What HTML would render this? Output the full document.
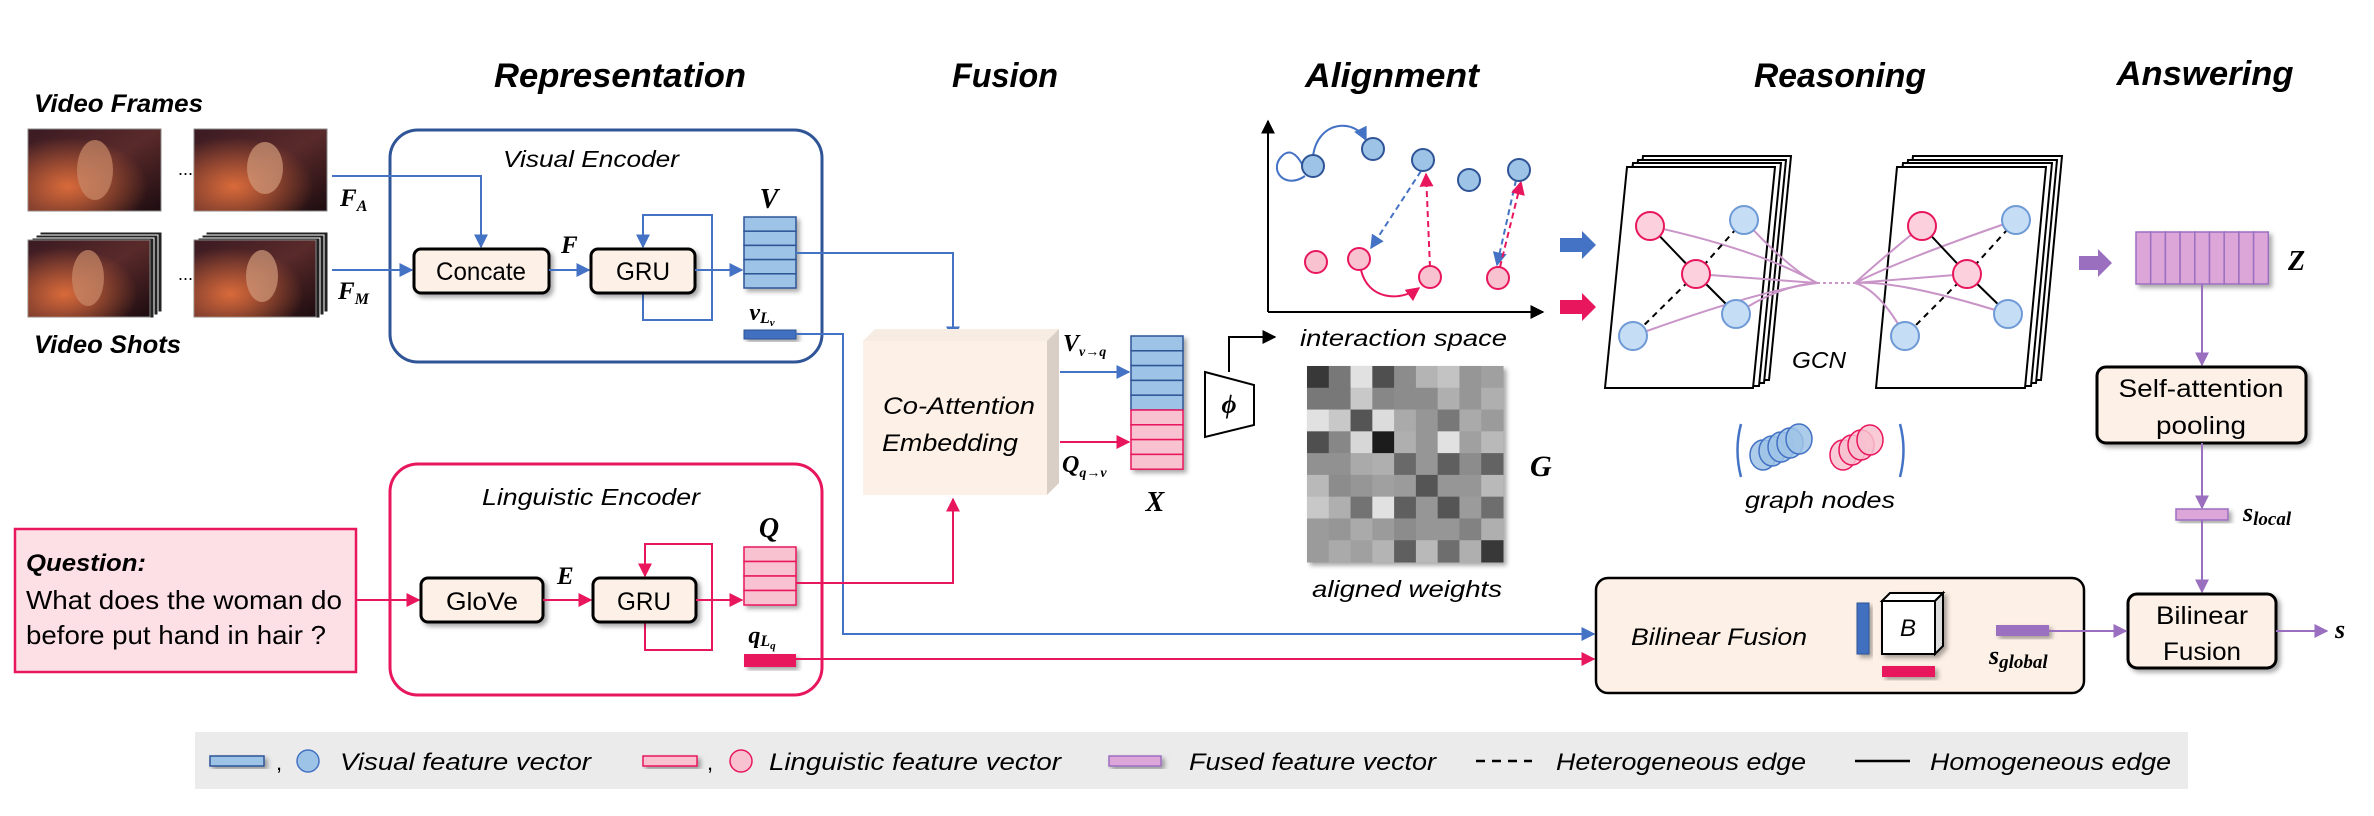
<!DOCTYPE html>
<html><head><meta charset="utf-8"><title>Framework diagram</title>
<style>
html,body{margin:0;padding:0;background:#fff;}
svg{display:block;}
.t{font-family:"Liberation Sans",sans-serif;font-style:italic;}
.m{font-family:"Liberation Serif",serif;font-style:italic;font-weight:bold;}
</style></head>
<body>
<svg id="fig" width="2374" height="816" viewBox="0 0 2374 816" xmlns="http://www.w3.org/2000/svg">
<defs>
<marker id="ab" viewBox="0 0 10 10" refX="9" refY="5" markerWidth="7" markerHeight="7" orient="auto-start-reverse"><path d="M0,0L10,5L0,10z" fill="#4472c4"/></marker>
<marker id="ar" viewBox="0 0 10 10" refX="9" refY="5" markerWidth="7" markerHeight="7" orient="auto-start-reverse"><path d="M0,0L10,5L0,10z" fill="#e8175d"/></marker>
<marker id="ap" viewBox="0 0 10 10" refX="9" refY="5" markerWidth="7" markerHeight="7" orient="auto-start-reverse"><path d="M0,0L10,5L0,10z" fill="#9b6fc0"/></marker>
<marker id="ak" viewBox="0 0 10 10" refX="9" refY="5" markerWidth="7" markerHeight="7" orient="auto-start-reverse"><path d="M0,0L10,5L0,10z" fill="#000"/></marker>
<linearGradient id="photo" x1="0" y1="0" x2="1" y2="1"><stop offset="0" stop-color="#3a1a22"/><stop offset="0.5" stop-color="#5a2a2a"/><stop offset="1" stop-color="#1c0c10"/></linearGradient>
<radialGradient id="glow" cx="0.3" cy="0.7" r="0.6"><stop offset="0" stop-color="#d86a3a"/><stop offset="1" stop-color="#d86a3a" stop-opacity="0"/></radialGradient>
<filter id="sh" x="-20%" y="-20%" width="150%" height="150%"><feDropShadow dx="3" dy="3" stdDeviation="2.5" flood-color="#000" flood-opacity="0.35"/></filter>
</defs>

<!-- Titles -->
<g class="t" font-weight="bold" font-size="34" text-anchor="middle">
<text x="620" y="87" textLength="252" lengthAdjust="spacingAndGlyphs">Representation</text>
<text x="1005" y="87" textLength="106" lengthAdjust="spacingAndGlyphs">Fusion</text>
<text x="1392" y="87" textLength="174" lengthAdjust="spacingAndGlyphs">Alignment</text>
<text x="1840" y="87" textLength="172" lengthAdjust="spacingAndGlyphs">Reasoning</text>
<text x="2205" y="85" textLength="177" lengthAdjust="spacingAndGlyphs">Answering</text>
</g>

<!-- Video inputs -->
<text class="t" font-weight="bold" font-size="25" x="34" y="112" textLength="169" lengthAdjust="spacingAndGlyphs">Video Frames</text>
<g><rect x="28" y="129" width="133" height="82" fill="url(#photo)" stroke="#888"/><rect x="28" y="129" width="133" height="82" fill="url(#glow)"/><ellipse cx="95" cy="170" rx="18" ry="30" fill="#c98a6a" opacity="0.7"/></g>
<text x="178" y="175" font-size="18" font-family="Liberation Sans">...</text>
<g><rect x="194" y="129" width="133" height="82" fill="url(#photo)" stroke="#888"/><rect x="194" y="129" width="133" height="82" fill="url(#glow)"/><ellipse cx="265" cy="168" rx="18" ry="26" fill="#d09a7a" opacity="0.7"/></g>
<g>
<rect x="40" y="232" width="122" height="80" fill="#222" stroke="#fff"/><rect x="36" y="235" width="122" height="80" fill="#222" stroke="#fff"/><rect x="32" y="238" width="122" height="80" fill="#222" stroke="#fff"/>
<rect x="28" y="240" width="122" height="77" fill="url(#photo)" stroke="#888"/><rect x="28" y="240" width="122" height="77" fill="url(#glow)"/><ellipse cx="88" cy="278" rx="16" ry="28" fill="#c98a6a" opacity="0.7"/></g>
<text x="178" y="280" font-size="18" font-family="Liberation Sans">...</text>
<g>
<rect x="206" y="232" width="122" height="80" fill="#222" stroke="#fff"/><rect x="202" y="235" width="122" height="80" fill="#222" stroke="#fff"/><rect x="198" y="238" width="122" height="80" fill="#222" stroke="#fff"/>
<rect x="194" y="240" width="122" height="77" fill="url(#photo)" stroke="#888"/><rect x="194" y="240" width="122" height="77" fill="url(#glow)"/><ellipse cx="262" cy="276" rx="16" ry="26" fill="#d09a7a" opacity="0.7"/></g>
<text class="t" font-weight="bold" font-size="25" x="34" y="353" textLength="147" lengthAdjust="spacingAndGlyphs">Video Shots</text>

<!-- Visual encoder -->
<rect x="390" y="130" width="432" height="232" rx="28" fill="none" stroke="#2f5597" stroke-width="3"/>
<text class="t" font-size="23" x="591" y="167" text-anchor="middle" textLength="176" lengthAdjust="spacingAndGlyphs">Visual Encoder</text>
<text class="m" font-size="25" x="340" y="206">F<tspan font-size="16" dy="5">A</tspan></text>
<text class="m" font-size="25" x="338" y="299">F<tspan font-size="16" dy="5">M</tspan></text>
<polyline points="332,176 481,176 481,247" fill="none" stroke="#4472c4" stroke-width="2" marker-end="url(#ab)"/>
<line x1="332" y1="270" x2="412" y2="270" stroke="#4472c4" stroke-width="2" marker-end="url(#ab)"/>
<rect x="414" y="249" width="135" height="44" rx="7" fill="#fdf0e6" stroke="#000" stroke-width="3" filter="url(#sh)"/>
<text font-family="Liberation Sans" font-size="25" x="481" y="280" text-anchor="middle" textLength="90" lengthAdjust="spacingAndGlyphs">Concate</text>
<text class="m" font-size="25" x="561" y="253">F</text>
<line x1="549" y1="270" x2="589" y2="270" stroke="#4472c4" stroke-width="2" marker-end="url(#ab)"/>
<polyline points="643,293 643,320 712,320 712,215 643,215 643,247" fill="none" stroke="#4472c4" stroke-width="2" marker-end="url(#ab)"/>
<rect x="591" y="249" width="104" height="44" rx="7" fill="#fdf0e6" stroke="#000" stroke-width="3" filter="url(#sh)"/>
<text font-family="Liberation Sans" font-size="25" x="643" y="280" text-anchor="middle" textLength="54" lengthAdjust="spacingAndGlyphs">GRU</text>
<line x1="695" y1="270" x2="742" y2="270" stroke="#4472c4" stroke-width="2" marker-end="url(#ab)"/>
<g id="vstack" filter="url(#sh)"></g>
<text class="m" font-size="28" x="769" y="208" text-anchor="middle">V</text>
<text class="m" font-size="24" x="762" y="320" text-anchor="middle">v<tspan font-size="16" dy="3">L</tspan><tspan font-size="11" dy="3">v</tspan></text>
<rect x="744" y="330" width="52" height="9" fill="#3f6fbf" stroke="#2f5597" filter="url(#sh)"/>
<polyline points="796,253 953,253 953,339" fill="none" stroke="#4472c4" stroke-width="2" marker-end="url(#ab)"/>
<polyline points="796,334 843,334 843,634 1594,634" fill="none" stroke="#4472c4" stroke-width="2" marker-end="url(#ab)"/>

<!-- Linguistic encoder -->
<rect x="390" y="464" width="432" height="231" rx="28" fill="none" stroke="#e8175d" stroke-width="3"/>
<text class="t" font-size="23" x="591" y="505" text-anchor="middle" textLength="218" lengthAdjust="spacingAndGlyphs">Linguistic Encoder</text>
<rect x="15" y="529" width="341" height="143" fill="#fde0e6" stroke="#e8175d" stroke-width="2.5"/>
<text class="t" font-weight="bold" font-size="24" x="26" y="571" textLength="120" lengthAdjust="spacingAndGlyphs">Question:</text>
<text font-family="Liberation Sans" font-size="26" x="26" y="609" textLength="316" lengthAdjust="spacingAndGlyphs">What does the woman do</text>
<text font-family="Liberation Sans" font-size="26" x="26" y="644" textLength="300" lengthAdjust="spacingAndGlyphs">before put hand in hair ?</text>
<line x1="356" y1="600" x2="419" y2="600" stroke="#e8175d" stroke-width="2" marker-end="url(#ar)"/>
<rect x="421" y="578" width="122" height="44" rx="7" fill="#fdf0e6" stroke="#000" stroke-width="3" filter="url(#sh)"/>
<text font-family="Liberation Sans" font-size="25" x="482" y="610" text-anchor="middle" textLength="72" lengthAdjust="spacingAndGlyphs">GloVe</text>
<text class="m" font-size="25" x="557" y="584">E</text>
<line x1="543" y1="600" x2="591" y2="600" stroke="#e8175d" stroke-width="2" marker-end="url(#ar)"/>
<polyline points="645,622 645,650 712,650 712,544 645,544 645,576" fill="none" stroke="#e8175d" stroke-width="2" marker-end="url(#ar)"/>
<rect x="593" y="578" width="103" height="44" rx="7" fill="#fdf0e6" stroke="#000" stroke-width="3" filter="url(#sh)"/>
<text font-family="Liberation Sans" font-size="25" x="644" y="610" text-anchor="middle" textLength="54" lengthAdjust="spacingAndGlyphs">GRU</text>
<line x1="696" y1="600" x2="742" y2="600" stroke="#e8175d" stroke-width="2" marker-end="url(#ar)"/>
<g id="qstack" filter="url(#sh)"></g>
<text class="m" font-size="28" x="769" y="537" text-anchor="middle">Q</text>
<text class="m" font-size="24" x="762" y="643" text-anchor="middle">q<tspan font-size="16" dy="3">L</tspan><tspan font-size="11" dy="3">q</tspan></text>
<rect x="744" y="654" width="52" height="13" fill="#e8175d" filter="url(#sh)"/>
<polyline points="796,583 953,583 953,499" fill="none" stroke="#e8175d" stroke-width="2" marker-end="url(#ar)"/>
<line x1="796" y1="659" x2="1594" y2="659" stroke="#e8175d" stroke-width="2" marker-end="url(#ar)"/>

<!-- Co-attention -->
<g>
<polygon points="863,341 875,329 1059,329 1047,341" fill="#f6ece2"/>
<polygon points="1047,341 1059,329 1059,483 1047,495" fill="#d9cfc6"/>
<rect x="863" y="341" width="184" height="154" fill="#fdf0e6"/>
</g>
<text class="t" font-size="24" x="959" y="414" text-anchor="middle" textLength="152" lengthAdjust="spacingAndGlyphs">Co-Attention</text>
<text class="t" font-size="24" x="950" y="451" text-anchor="middle" textLength="136" lengthAdjust="spacingAndGlyphs">Embedding</text>
<text class="m" font-size="24" x="1063" y="351">V<tspan font-size="14" dy="5">v→q</tspan></text>
<line x1="1060" y1="372" x2="1129" y2="372" stroke="#4472c4" stroke-width="2" marker-end="url(#ab)"/>
<line x1="1060" y1="442" x2="1129" y2="442" stroke="#e8175d" stroke-width="2" marker-end="url(#ar)"/>
<text class="m" font-size="24" x="1062" y="472">Q<tspan font-size="14" dy="5">q→v</tspan></text>
<g id="xstack" filter="url(#sh)"></g>
<text class="m" font-size="28" x="1155" y="511" text-anchor="middle">X</text>

<!-- Alignment -->
<polyline points="1229,372 1229,337 1275,337" fill="none" stroke="#000" stroke-width="2" marker-end="url(#ak)"/>
<polygon points="1205,372 1254,385 1254,425 1205,437" fill="#fff" stroke="#000" stroke-width="2"/>
<text class="m" font-size="26" x="1229" y="413" text-anchor="middle" font-weight="normal">ϕ</text>
<text class="t" font-size="23" x="1300" y="346" textLength="207" lengthAdjust="spacingAndGlyphs">interaction space</text>
<line x1="1268" y1="312" x2="1268" y2="121" stroke="#000" stroke-width="2" marker-end="url(#ak)"/>
<line x1="1268" y1="312" x2="1543" y2="312" stroke="#000" stroke-width="2" marker-end="url(#ak)"/>
<path d="M1305,176 C1285,190 1268,170 1282,156 C1292,146 1300,160 1303,166" fill="none" stroke="#4472c4" stroke-width="2"/>
<path d="M1313,156 C1318,120 1355,118 1366,140" fill="none" stroke="#4472c4" stroke-width="2" marker-end="url(#ab)"/>
<line x1="1421" y1="171" x2="1371" y2="248" stroke="#4472c4" stroke-width="2" stroke-dasharray="6,4" marker-end="url(#ab)"/>
<line x1="1430" y1="267" x2="1426" y2="174" stroke="#e8175d" stroke-width="2" stroke-dasharray="6,4" marker-end="url(#ar)"/>
<line x1="1516" y1="180" x2="1497" y2="265" stroke="#4472c4" stroke-width="2" stroke-dasharray="6,4" marker-end="url(#ab)"/>
<line x1="1500" y1="267" x2="1521" y2="182" stroke="#e8175d" stroke-width="2" stroke-dasharray="6,4" marker-end="url(#ar)"/>
<path d="M1361,270 C1368,300 1400,302 1419,288" fill="none" stroke="#e8175d" stroke-width="2" marker-end="url(#ar)"/>
<g stroke="#2f5597" stroke-width="2" fill="#9dc3e6">
<circle cx="1313" cy="166" r="11"/>
<circle cx="1373" cy="149" r="11"/>
<circle cx="1423" cy="160" r="11"/>
<circle cx="1469" cy="180" r="11"/>
<circle cx="1519" cy="170" r="11"/>
</g>
<g stroke="#e8175d" stroke-width="2" fill="#f8c2d0">
<circle cx="1316" cy="262" r="11"/>
<circle cx="1359" cy="259" r="11"/>
<circle cx="1430" cy="277" r="11"/>
<circle cx="1498" cy="278" r="11"/>
</g>
<polygon points="1560,238 1582,238 1582,231 1596,245 1582,259 1582,252 1560,252" fill="#4472c4"/>
<polygon points="1560,300 1582,300 1582,293 1596,307 1582,321 1582,314 1560,314" fill="#e8175d"/>
<g id="heatmap" filter="url(#sh)"></g>
<text class="m" font-size="30" x="1530" y="476">G</text>
<text class="t" font-size="23" x="1407" y="597" text-anchor="middle" textLength="190" lengthAdjust="spacingAndGlyphs">aligned weights</text>

<!-- Reasoning GCN -->
<g fill="#fff" stroke="#000" stroke-width="2">
<polygon points="1621,380 1643,156 1791,156 1769,380"/>
<polygon points="1616,383 1638,160 1786,160 1764,383"/>
<polygon points="1611,386 1633,163 1781,163 1759,386"/>
<polygon points="1605,388 1627,167 1775,167 1753,388"/>
</g>
<g fill="#fff" stroke="#000" stroke-width="2">
<polygon points="1891,380 1913,156 2062,156 2041,380"/>
<polygon points="1886,383 1908,160 2057,160 2036,383"/>
<polygon points="1881,386 1903,163 2052,163 2031,386"/>
<polygon points="1876,388 1897,167 2046,167 2025,388"/>
</g>
<g stroke="#c994c7" stroke-width="2" fill="none">
<path d="M1650,226 Q1760,250 1817,283"/><path d="M1696,274 L1817,283"/><path d="M1744,220 Q1790,270 1817,283"/><path d="M1736,314 Q1780,285 1817,283"/><path d="M1633,336 Q1760,290 1817,283"/>
<path d="M1922,226 Q1880,260 1855,283"/><path d="M1967,274 L1855,283"/><path d="M2016,220 Q1900,260 1855,283"/><path d="M2008,314 Q1900,280 1855,283"/><path d="M1905,336 Q1880,290 1855,283"/>
<line x1="1817" y1="283" x2="1855" y2="283" stroke-dasharray="3,3"/>
</g>
<g stroke="#000" stroke-width="2">
<line x1="1650" y1="226" x2="1696" y2="274"/><line x1="1696" y1="274" x2="1744" y2="220" stroke-dasharray="6,5"/><line x1="1696" y1="274" x2="1633" y2="336" stroke-dasharray="6,5"/><line x1="1696" y1="274" x2="1736" y2="314"/>
<line x1="1922" y1="226" x2="1967" y2="274"/><line x1="1967" y1="274" x2="2016" y2="220" stroke-dasharray="6,5"/><line x1="1967" y1="274" x2="1905" y2="336" stroke-dasharray="6,5"/><line x1="1967" y1="274" x2="2008" y2="314"/>
</g>
<g stroke="#e8175d" stroke-width="2" fill="#fcd0dc">
<circle cx="1650" cy="226" r="14"/><circle cx="1696" cy="274" r="14"/>
<circle cx="1922" cy="226" r="14"/><circle cx="1967" cy="274" r="14"/>
</g>
<g stroke="#6f9ad6" stroke-width="2" fill="#c5ddf5">
<circle cx="1744" cy="220" r="14"/><circle cx="1736" cy="314" r="14"/><circle cx="1633" cy="336" r="14"/>
<circle cx="2016" cy="220" r="14"/><circle cx="2008" cy="314" r="14"/><circle cx="1905" cy="336" r="14"/>
</g>
<text class="t" font-size="23" x="1819" y="368" text-anchor="middle" textLength="54" lengthAdjust="spacingAndGlyphs">GCN</text>
<path d="M1741,424 Q1734,450 1741,477" fill="none" stroke="#4472c4" stroke-width="2.5"/>
<path d="M1900,424 Q1907,450 1900,477" fill="none" stroke="#4472c4" stroke-width="2.5"/>
<g stroke="#4472c4" stroke-width="1.5" fill="#9dc3e6" fill-opacity="0.85">
<ellipse cx="1763" cy="455" rx="13" ry="15"/><ellipse cx="1772" cy="451" rx="13" ry="15"/><ellipse cx="1781" cy="447" rx="13" ry="15"/><ellipse cx="1790" cy="443" rx="13" ry="15"/><ellipse cx="1799" cy="439" rx="13" ry="15"/>
</g>
<g stroke="#e8175d" stroke-width="1.5" fill="#f8c2d0" fill-opacity="0.85">
<ellipse cx="1843" cy="455" rx="13" ry="15"/><ellipse cx="1852" cy="450" rx="13" ry="15"/><ellipse cx="1861" cy="445" rx="13" ry="15"/><ellipse cx="1870" cy="440" rx="13" ry="15"/>
</g>
<text class="t" font-size="23" x="1820" y="508" text-anchor="middle" textLength="150" lengthAdjust="spacingAndGlyphs">graph nodes</text>

<!-- Answering -->
<polygon points="2079,256 2098,256 2098,249 2112,263 2098,277 2098,270 2079,270" fill="#9b6fc0"/>
<g id="zstack" filter="url(#sh)"></g>
<text class="m" font-size="28" x="2288" y="270">Z</text>
<line x1="2202" y1="284" x2="2202" y2="365" stroke="#9b6fc0" stroke-width="2" marker-end="url(#ap)"/>
<rect x="2097" y="367" width="209" height="76" rx="9" fill="#fdf0e6" stroke="#000" stroke-width="3" filter="url(#sh)"/>
<text font-family="Liberation Sans" font-size="25" x="2201" y="397" text-anchor="middle" textLength="165" lengthAdjust="spacingAndGlyphs">Self-attention</text>
<text font-family="Liberation Sans" font-size="25" x="2201" y="434" text-anchor="middle" textLength="90" lengthAdjust="spacingAndGlyphs">pooling</text>
<line x1="2202" y1="443" x2="2202" y2="508" stroke="#9b6fc0" stroke-width="2" marker-end="url(#ap)"/>
<rect x="2176" y="509" width="52" height="11" fill="#dca6d9" stroke="#9b6fc0" stroke-width="1.5" filter="url(#sh)"/>
<text class="m" font-size="26" x="2243" y="521" font-weight="normal">s<tspan font-size="19" dy="4">local</tspan></text>
<line x1="2202" y1="520" x2="2202" y2="592" stroke="#9b6fc0" stroke-width="2" marker-end="url(#ap)"/>
<rect x="2128" y="594" width="148" height="74" rx="9" fill="#fdf0e6" stroke="#000" stroke-width="3" filter="url(#sh)"/>
<text font-family="Liberation Sans" font-size="25" x="2202" y="624" text-anchor="middle" textLength="92" lengthAdjust="spacingAndGlyphs">Bilinear</text>
<text font-family="Liberation Sans" font-size="25" x="2202" y="660" text-anchor="middle" textLength="78" lengthAdjust="spacingAndGlyphs">Fusion</text>
<line x1="2276" y1="631" x2="2327" y2="631" stroke="#9b6fc0" stroke-width="2" marker-end="url(#ap)"/>
<text class="m" font-size="26" x="2335" y="638">s</text>

<!-- Big bilinear fusion -->
<rect x="1596" y="578" width="488" height="115" rx="12" fill="#fdf0e6" stroke="#000" stroke-width="2.5"/>
<text class="t" font-size="24" x="1631" y="645" textLength="176" lengthAdjust="spacingAndGlyphs">Bilinear Fusion</text>
<rect x="1857" y="603" width="12" height="51" fill="#3f6fbf" stroke="#2f5597" filter="url(#sh)"/>
<g filter="url(#sh)">
<polygon points="1882,601 1890,593 1943,593 1935,601" fill="#fff" stroke="#000" stroke-width="2"/>
<polygon points="1935,601 1943,593 1943,646 1935,654" fill="#ddd" stroke="#000" stroke-width="2"/>
<rect x="1882" y="601" width="53" height="53" fill="#fff" stroke="#000" stroke-width="2"/>
</g>
<text class="t" font-size="24" x="1908" y="636" text-anchor="middle">B</text>
<rect x="1882" y="666" width="53" height="11" fill="#e8175d" filter="url(#sh)"/>
<rect x="1996" y="625" width="53" height="11" fill="#9b6fc0" filter="url(#sh)"/>
<text class="m" font-size="26" x="1989" y="664" font-weight="normal">s<tspan font-size="19" dy="4">global</tspan></text>
<line x1="2049" y1="631" x2="2126" y2="631" stroke="#9b6fc0" stroke-width="2" marker-end="url(#ap)"/>

<!-- Legend -->
<rect x="195" y="732" width="1993" height="57" fill="#ebebeb"/>
<g>
<rect x="210" y="756" width="54" height="10" fill="#9dc3e6" stroke="#2f5597" stroke-width="1.5" filter="url(#sh)"/>
<text font-family="Liberation Sans" font-size="22" x="276" y="770">,</text>
<ellipse cx="308" cy="761" rx="11" ry="11" fill="#9dc3e6" stroke="#4472c4" stroke-width="1.5"/>
<text class="t" font-size="24" x="340" y="770" textLength="251" lengthAdjust="spacingAndGlyphs">Visual feature vector</text>
</g>
<g>
<rect x="643" y="756" width="54" height="10" fill="#f8c2d0" stroke="#e8175d" stroke-width="1.5" filter="url(#sh)"/>
<text font-family="Liberation Sans" font-size="22" x="707" y="770">,</text>
<ellipse cx="741" cy="761" rx="11" ry="11" fill="#f8c2d0" stroke="#e8175d" stroke-width="1.5"/>
<text class="t" font-size="24" x="769" y="770" textLength="292" lengthAdjust="spacingAndGlyphs">Linguistic feature vector</text>
</g>
<g>
<rect x="1109" y="756" width="52" height="10" fill="#dca6d9" stroke="#9b6fc0" stroke-width="1.5" filter="url(#sh)"/>
<text class="t" font-size="24" x="1189" y="770" textLength="247" lengthAdjust="spacingAndGlyphs">Fused feature vector</text>
</g>
<g>
<line x1="1476" y1="761" x2="1532" y2="761" stroke="#000" stroke-width="2.5" stroke-dasharray="9,7"/>
<text class="t" font-size="24" x="1556" y="770" textLength="250" lengthAdjust="spacingAndGlyphs">Heterogeneous edge</text>
</g>
<g>
<line x1="1855" y1="761" x2="1910" y2="761" stroke="#000" stroke-width="2.5"/>
<text class="t" font-size="24" x="1930" y="770" textLength="241" lengthAdjust="spacingAndGlyphs">Homogeneous edge</text>
</g>
</svg>
<script>
// aligned weights heatmap gray levels (0-255), 9x9
const gRow0 = [55,120,225,80,140,180,195,150,160];
const gRow1 = [120,120,200,135,140,140,175,150,175];
const gRow2 = [225,200,85,220,170,150,120,170,155];
const gRow3 = [80,135,215,30,175,150,225,160,185];
const gRow4 = [145,145,170,175,105,150,95,140,100];
const gRow5 = [185,140,150,160,155,85,150,150,185];
const gRow6 = [200,175,115,225,95,150,85,155,110];
const gRow7 = [155,150,170,155,140,150,150,130,175];
const gRow8 = [155,170,160,180,95,185,110,175,55];
const gRows = [gRow0,gRow1,gRow2,gRow3,gRow4,gRow5,gRow6,gRow7,gRow8];
const xStackKinds = ['v','v','v','v','v','q','q','q','q'];
const NS = 'http://www.w3.org/2000/svg';
function mk(parent, tag, attrs){const e=document.createElementNS(NS,tag);for(const k in attrs)e.setAttribute(k,attrs[k]);parent.appendChild(e);return e;}
const hm = document.getElementById('heatmap');
const hx0=1307, hy0=366, hw=196, hh=196;
const cw = hw/gRows[0].length, ch = hh/gRows.length;
gRows.forEach((row,r)=>row.forEach((v,c)=>{
  const e = mk(hm,'rect',{x:hx0+c*cw,y:hy0+r*ch,width:cw+0.5,height:ch+0.5,fill:`rgb(${v},${v},${v})`});
  
  
}));
function stack(id,x,y,w,h,kinds){
  const g=document.getElementById(id);
  kinds.forEach((k,i)=>{
    const e=mk(g,'rect',{x:x,y:y+i*h,width:w,height:h,fill:k==='v'?'#9dc3e6':'#f8c2d0',stroke:k==='v'?'#2f5597':'#e8175d','stroke-width':1.5});
    
    
  });
}
stack('vstack',744,217,52,14.2,['v','v','v','v','v']);
stack('qstack',744,547,52,14.5,['q','q','q','q']);
stack('xstack',1131,336,52,14.8,xStackKinds);
const zg=document.getElementById('zstack');
for(let i=0;i<9;i++){
  const e=mk(zg,'rect',{x:2136+i*14.7,y:232,width:14.7,height:52,fill:'#dca6d9',stroke:'#9b6fc0','stroke-width':1.5});
  
  
}
</script>
</body></html>
